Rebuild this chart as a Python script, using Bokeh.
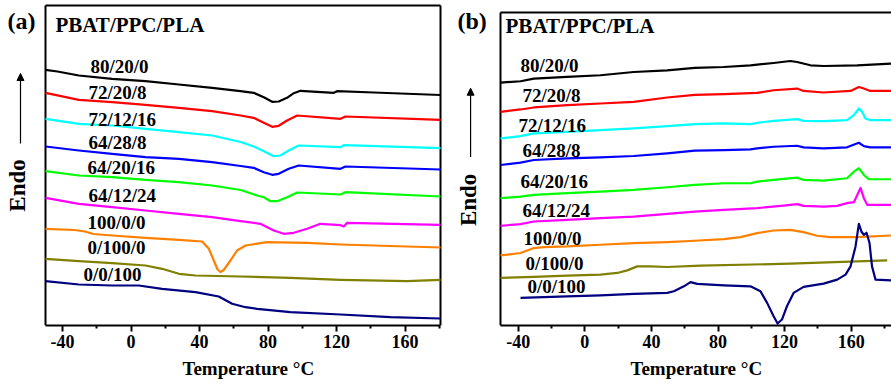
from bokeh.plotting import figure
from bokeh.models import Range1d, FixedTicker, Arrow, NormalHead, Title
from bokeh.layouts import row
from bokeh.core.properties import value
from bokeh.embed import file_html
from bokeh.resources import INLINE

FONT = "Liberation Serif"

# ---------------- data: panel (a) ----------------
A_LABELS = ["80/20/0", "72/20/8", "72/12/16", "64/28/8", "64/20/16",
            "64/12/24", "100/0/0", "0/100/0", "0/0/100"]
COLORS = ["#000000", "#FF0000", "#00FFFF", "#0000FF", "#00FF00",
          "#FF00FF", "#FF8000", "#808000", "#000080"]

a1_T = [-50, -43, -30.5, -11.1, 8.4, 27.9, 47.3, 63.9, 71.6, 77.5, 82.4, 86.2, 91.1, 95.0, 98.9, 118.4, 120.3, 141.7, 180.7]
a1_y = [255.7, 254, 250, 246.7, 244.3, 241, 237.7, 234.3, 232.7, 228.3, 223.7, 224, 227.7, 232.3, 234.7, 232.7, 234.3, 233, 230.5]
a2_T = [-50, -30.5, -11.1, 8.4, 27.9, 47.3, 63.9, 71.6, 77.5, 82.4, 86.2, 91.1, 97.0, 122.3, 125.2, 180.7]
a2_y = [232.7, 225.7, 223.3, 220.7, 217.7, 214.3, 210, 207.7, 202.7, 198.7, 199.7, 205, 210, 206.7, 209, 205.7]
a3_T = [-50, -30.5, -11.1, 8.4, 27.9, 47.3, 64, 71.6, 77.5, 83.3, 87.2, 92.1, 97.9, 122.3, 124.2, 180.7]
a3_y = [206.7, 201.7, 200, 196.7, 193.3, 190, 183.5, 179, 174.3, 169.3, 170, 175, 180, 178.3, 180.3, 177.3]
a4_T = [-50, -30.5, -11.1, 8.4, 27.9, 47.3, 64, 71.6, 77.5, 82.4, 86.2, 92.1, 97.9, 122.3, 125.2, 180.7]
a4_y = [179, 175, 171.7, 168.3, 166.7, 163.3, 159.5, 157.7, 153.3, 150.7, 151.7, 156.7, 160, 156.7, 159, 156]
a5_T = [-50, -30.5, -11.1, 8.4, 27.9, 47.3, 64, 73.6, 77.5, 81.4, 85.3, 91.1, 97.0, 122.3, 125.2, 180.7]
a5_y = [154.3, 150, 148.3, 145.7, 143.3, 140, 135.5, 130, 128.3, 124.3, 124.3, 128.3, 133, 131, 133.3, 129]
a6_T = [-50, -30.5, -11.1, 8.4, 27.9, 47.3, 64, 75.5, 83.3, 89.2, 95.0, 102.8, 110.6, 122.3, 124.2, 126.2, 180.7]
a6_y = [127.7, 121.7, 118.3, 115, 111.7, 108.3, 104.3, 101.7, 95, 91.7, 92.7, 96.7, 101.7, 100.3, 99, 102.7, 100.7]
a7_T = [-50, -33, -27, -22, -11.1, 8.4, 27.9, 41.5, 45.4, 48.3, 50.5, 52.2, 54.1, 58.0, 61.9, 66.8, 79.4, 102.8, 122.3, 180.7]
a7_y = [96.7, 95.5, 94, 91.5, 90, 87.7, 85.7, 84, 76.7, 65, 56, 53.5, 55.5, 65, 75, 80, 83.3, 82.7, 81, 78]
a8_T = [-50, -30.5, -11.1, 8.4, 18.1, 27.9, 37.6, 63.9, 93.1, 122.3, 161.2, 180.7]
a8_y = [66.7, 64.3, 62.3, 60, 56.7, 51.7, 50, 49, 47.7, 45.7, 44.3, 45.7]
a9_T = [-50, -30.5, -11.1, 4.5, 18.1, 37.6, 51.2, 59.0, 66.8, 73.6, 93.1, 122.3, 151.5, 180.7]
a9_y = [44.3, 41, 40, 40, 36.7, 33.3, 29, 21.7, 18.3, 16.7, 13.3, 11, 8.3, 7]

# ---------------- data: panel (b) ----------------
b1_T = [-50.6, -38.6, -30.6, -10.6, 9.4, 29.4, 49.5, 66, 83.5, 99.5, 113.4, 123.4, 127.5, 135.5, 143.4, 163.6, 184.2]
b1_y = [243.7, 245, 247.7, 249.3, 251, 254.3, 256, 258.5, 259.3, 261, 263.3, 265.3, 264.3, 261, 260.3, 261, 262.7]
b2_T = [-50.6, -38.6, -30.6, -10.6, 9.4, 29.4, 49.5, 66, 83.5, 103.5, 113.4, 127.5, 131.4, 143.4, 159.6, 164.6, 167.6, 171.5, 184.2]
b2_y = [214.3, 216.7, 218.7, 221, 222.7, 224.3, 228.7, 231.3, 232, 233.3, 236, 237.7, 235.3, 233.7, 235.3, 239.3, 237.7, 235.3, 235.3]
b3_T = [-50.6, -38.6, -30.6, -10.6, 9.4, 29.4, 49.5, 66, 83.5, 99.5, 103.5, 113.4, 127.5, 131.4, 143.4, 157.5, 161.6, 164.6, 166.6, 168.5, 171.5, 184.2]
b3_y = [187.7, 190, 192.7, 194.3, 196, 197.7, 200, 202, 202.7, 202, 203.3, 205.3, 207, 205.3, 205, 206, 211, 217.7, 214.3, 207.7, 206, 206]
b4_T = [-50.6, -38.6, -30.6, -10.6, 9.4, 29.4, 49.5, 66, 83.5, 99.5, 103.5, 113.4, 127.5, 131.4, 143.4, 157.5, 162.6, 164.6, 167.6, 171.5, 184.2]
b4_y = [161, 163.3, 166, 167.7, 168.7, 170, 172.7, 175.5, 176, 176.7, 177.7, 179.3, 180.3, 178.7, 177.7, 178.7, 182, 183.3, 180, 178.7, 178.7]
b5_T = [-50.6, -38.6, -30.6, -10.6, 9.4, 29.4, 49.5, 66, 83.5, 99.5, 103.5, 113.4, 127.5, 131.4, 143.4, 157.5, 161.6, 164.6, 167.6, 170.5, 184.2]
b5_y = [127.7, 129.3, 131, 132.7, 134.3, 136, 138.7, 141, 142.7, 142.7, 144.3, 146, 148.3, 146, 145.3, 147.7, 154.3, 157.7, 151, 146.7, 146.7]
b6_T = [-50.6, -38.6, -30.6, -10.6, 9.4, 29.4, 49.5, 66, 83.5, 103.5, 119.4, 127.5, 131.4, 143.4, 151.6, 157.5, 161.6, 165.6, 167.6, 169.6, 184.2]
b6_y = [100, 101.7, 104.3, 106, 107.7, 109.3, 112, 114.3, 116, 117.7, 120.3, 121.7, 120, 119.3, 120, 122.7, 123.7, 138, 127.7, 121, 121]
b7_T = [-50.6, -38.6, -30.6, -24.6, -10.6, 9.4, 29.4, 49.5, 66, 83.5, 93.5, 103.5, 113.4, 123.4, 131.4, 139.5, 147.5, 163.6, 184.2]
b7_y = [70.3, 72.7, 77.7, 78.7, 79.3, 81, 82.7, 83.7, 85, 86.7, 88.7, 92.7, 95.3, 96, 93.7, 90, 88.7, 88.7, 90.3]
b8_T = [-50.6, -30.6, -10.6, 9.4, 19.5, 25.5, 31.5, 39.5, 49.5, 69.5, 123.4, 181.6]
b8_y = [47.7, 48.7, 50, 51, 52.7, 55.3, 59.3, 59.3, 58.7, 60, 62, 65.3]
b9_T = [-38.6, -10.6, 9.4, 29.4, 49.5, 53.5, 59.5, 63.5, 67.5, 83.5, 99.5, 105.5, 109.5, 113.4, 115.8,
        118.4, 121.4, 125.4, 131.4, 143.4, 151.6, 156.6, 159.6, 162.6, 164.6, 166.2, 167.6, 169.2, 171,
        172.5, 174.6, 184.2]
b9_y = [27.7, 29.3, 30.3, 31.7, 32.7, 34.3, 39.3, 43.5, 41.7, 40.3, 39.3, 34.3, 22.7, 9.3, 2,
        6, 19.3, 32.7, 38.7, 42, 46, 51, 59.3, 79.3, 102, 94, 91, 93, 82.7,
        59.3, 46, 45.3]

X_TICKS = [-40, 0, 40, 80, 120, 160]
X_MINOR = [-20, 20, 60, 100, 140, 180]

# label placement (positions, not data): centre of each label
A_LAB_X = [-23.7, -24.9, -24.9, -24.9, -25.5, -24.9, -25.5, -25.5, -27.8]
A_LAB_Y = [259.3, 233.3, 206.3, 183.3, 158.3, 130.3, 103.3, 78.3, 51.3]
B_LAB_X = [-38.6, -37.4, -39.8, -37.4, -38.6, -37.4, -36.8, -35.6, -34.4]
B_LAB_Y = [261.3, 230.3, 200.3, 175.3, 144.3, 115.3, 87.3, 62.3, 39.3]

A_SERIES = [(a1_T, a1_y), (a2_T, a2_y), (a3_T, a3_y), (a4_T, a4_y), (a5_T, a5_y),
            (a6_T, a6_y), (a7_T, a7_y), (a8_T, a8_y), (a9_T, a9_y)]
B_SERIES = [(b1_T, b1_y), (b2_T, b2_y), (b3_T, b3_y), (b4_T, b4_y), (b5_T, b5_y),
            (b6_T, b6_y), (b7_T, b7_y), (b8_T, b8_y), (b9_T, b9_y)]


def style_xaxis(ax, bounds):
    ax.bounds = bounds
    ax.ticker = FixedTicker(ticks=X_TICKS, minor_ticks=X_MINOR)
    ax.major_label_overrides = {t: str(t) for t in X_TICKS}
    ax.axis_line_width = 2
    ax.axis_line_color = "black"
    ax.major_tick_in = 0
    ax.major_tick_out = 6
    ax.major_tick_line_width = 2
    ax.minor_tick_in = 0
    ax.minor_tick_out = 3
    ax.minor_tick_line_width = 2
    ax.major_label_text_font = FONT
    ax.major_label_text_font_style = "bold"
    ax.major_label_text_font_size = "18px"
    ax.major_label_text_color = "black"
    ax.major_label_standoff = 3


def txt(p, x, y, s, size, **kw):
    p.text(x=[x], y=[y], text=[s], text_font=value(FONT), text_font_style="bold",
           text_font_size=size, text_color="black", **kw)


def build(width, x0, x1, xleft, xright, ytop, ymax, series, lab_x, lab_y, panel,
          title_xy, tag_xy, endo_xy, arrow, right_border, min_right, xlabel_offset):
    p = figure(width=width, height=388, title=None,
               x_range=Range1d(xleft, xright), y_range=Range1d(0, ymax),
               output_backend="svg", toolbar_location=None,
               min_border_left=0, min_border_right=min_right, min_border_top=0, min_border_bottom=63)
    p.yaxis.visible = False
    p.grid.visible = False
    p.outline_line_color = None
    style_xaxis(p.xaxis[0], (x0, x1))
    p.add_layout(Title(text="Temperature °C", align="left", offset=xlabel_offset,
                       text_font=FONT, text_font_style="bold", text_font_size="19px",
                       text_color="black", standoff=10), "below")
    # frame lines (left, top, optional right)
    sx0 = [x0, x0]
    sy0 = [0, ytop]
    sx1 = [x0, x1]
    sy1 = [ytop, ytop]
    if right_border:
        sx0.append(x1); sy0.append(0); sx1.append(x1); sy1.append(ytop)
    p.segment(x0=sx0, y0=sy0, x1=sx1, y1=sy1, line_color="black", line_width=2)
    for (T, y), c in zip(series, COLORS):
        p.line(T, y, line_color=c, line_width=2.2, line_join="round")
    p.text(x=lab_x, y=lab_y, text=A_LABELS, text_font=value(FONT),
           text_font_style="bold", text_font_size="19px", text_color="black",
           text_baseline="middle", text_align="left")
    txt(p, title_xy[0], title_xy[1], "PBAT/PPC/PLA", "21px", text_baseline="middle")
    txt(p, tag_xy[0], tag_xy[1], panel, "24px", text_baseline="middle")
    txt(p, endo_xy[0], endo_xy[1], "Endo", "23px", angle=1.5708,
        text_baseline="middle", text_align="center")
    p.add_layout(Arrow(end=NormalHead(size=7, fill_color="black", line_color="black"),
                       x_start=arrow[0], y_start=arrow[1], x_end=arrow[0], y_end=arrow[2],
                       line_width=1.2, line_color="black"))
    return p


pa = build(450, -50, 180.7, -76.28, 181.87, 320, 325, A_SERIES, A_LAB_X, A_LAB_Y, "(a)",
           (-44.2, 300.5), (-72.2, 305), (-66.3, 140), (-64.6, 182, 252), True, 8, 182)
pb = build(441, -50.63, 184.2, -80.66, 184.2, 314, 326, B_SERIES, B_LAB_X, B_LAB_Y, "(b)",
           (-47.6, 300), (-76.5, 305), (-69.9, 126), (-68.6, 169, 238), False, 0, 180)

layout = row(pa, pb, spacing=0)
open("out.html", "w").write(file_html(layout, INLINE))
